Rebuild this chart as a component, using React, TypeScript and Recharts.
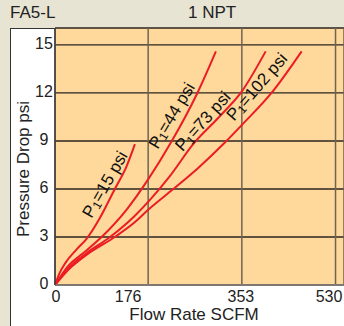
import { CartesianGrid, Line, LineChart, ReferenceDot, XAxis, YAxis } from "recharts";

const xTicks = [0, 176, 353, 530];
const yTicks = [0, 3, 6, 9, 12, 15];

// flow (SCFM) / pressure drop (psi), one pair per inlet pressure
const flow15 = [0, 8, 20, 40, 60, 85, 113, 135, 151];
const drop15 = [0, 0.7, 1.4, 2.2, 2.9, 4.2, 6.0, 7.4, 8.8];

const flow44 = [0, 25, 50, 88, 135, 176, 219, 269, 304];
const drop44 = [0, 1.2, 1.9, 3.0, 4.7, 6.6, 8.9, 12.0, 14.6];

const flow73 = [0, 30, 60, 104, 150, 179, 217, 261, 310, 353, 398];
const drop73 = [0, 1.2, 2.0, 3.0, 4.3, 5.3, 6.8, 8.8, 10.5, 12.1, 14.6];

const flow102 = [0, 30, 60, 113, 150, 176, 220, 270, 321, 353, 409, 466];
const drop102 = [0, 1.1, 1.9, 3.0, 3.9, 4.7, 5.9, 7.3, 8.9, 10.0, 12.0, 14.6];

const inletPressures = ["15", "44", "73", "102"];

const toPoints = (xs: number[], ys: number[]) => xs.map((x, i) => ({ x, y: ys[i] }));

const series = [
  toPoints(flow15, drop15),
  toPoints(flow44, drop44),
  toPoints(flow73, drop73),
  toPoints(flow102, drop102),
];

// where each curve's label sits (data coords) and its slant
const labelSpots = [
  { x: 94, y: 6.3, angle: -60 },
  { x: 220, y: 10.6, angle: -59 },
  { x: 279, y: 10.25, angle: -48 },
  { x: 381, y: 12.4, angle: -49 },
];

const FONT = "'Liberation Sans', Arial, Helvetica, sans-serif";
const RED = "#ec1c24";
const INK = "#222";

// the printed "176" sits well left of its grid line
const xLabelShift: Record<number, number> = { 176: -20, 353: -1, 530: -3 };

function XTick({ x, y, payload }: any) {
  const v = payload.value as number;
  return (
    <text x={x + (xLabelShift[v] ?? 1)} y={y + 15} textAnchor="middle" fontFamily={FONT} fontSize={16} fill={INK}>
      {v}
    </text>
  );
}

function YTick({ y, payload }: any) {
  return (
    <text x={44} y={y + 4} textAnchor="middle" fontFamily={FONT} fontSize={16} fill={INK}>
      {payload.value}
    </text>
  );
}

function CurveLabel({ cx, cy, angle, p }: { cx?: number; cy?: number; angle: number; p: string }) {
  if (cx == null || cy == null) return null;
  return (
    <text
      x={cx}
      y={cy}
      textAnchor="middle"
      dominantBaseline="central"
      transform={`rotate(${angle}, ${cx}, ${cy})`}
      fontFamily={FONT}
      fontSize={17}
      fill="#111"
    >
      <tspan>P</tspan>
      <tspan fontSize={12} dy={4}>1</tspan>
      <tspan dy={-4}>{`=${p} psi`}</tspan>
    </text>
  );
}

export default function App() {
  return (
    <div style={{ position: "absolute", left: 0, top: 0, width: 344, height: 326, overflow: "hidden", background: "#e7e4d3", fontFamily: FONT }}>
      <div style={{ position: "absolute", left: 10, top: 28, width: 340, height: 310, background: "#fff", borderLeft: "1px solid #333", borderTop: "1px solid #333" }} />
      <div style={{ position: "absolute", left: 10, top: 3, fontSize: 17, color: INK }}>FA5-L</div>
      <div style={{ position: "absolute", left: 188, top: 3, fontSize: 17, color: INK }}>1 NPT</div>
      <div
        style={{
          position: "absolute",
          left: 24,
          top: 169,
          fontSize: 17,
          color: INK,
          whiteSpace: "nowrap",
          transform: "translate(-50%, -50%) rotate(-90deg)",
        }}
      >
        Pressure Drop psi
      </div>
      <div
        style={{
          position: "absolute",
          left: 194,
          top: 306,
          fontSize: 17,
          lineHeight: "17px",
          color: INK,
          whiteSpace: "nowrap",
          transform: "translateX(-50%)",
        }}
      >
        Flow Rate SCFM
      </div>
      <div style={{ position: "absolute", left: 0, top: 0 }}>
        <LineChart width={344} height={326} margin={{ top: 28, right: 0, bottom: 0, left: 10 }}>
          <CartesianGrid fill="#fed99b" vertical={false} stroke="#2b2520" strokeWidth={1.3} />
          <CartesianGrid horizontal={false} fill="none" stroke="#6f6354" strokeWidth={1.5} />
          <XAxis
            type="number"
            dataKey="x"
            domain={[0, 546]}
            ticks={xTicks}
            allowDataOverflow
            height={41}
            tickLine={false}
            tickSize={0}
            axisLine={{ stroke: "#9a9a9a", strokeWidth: 1 }}
            tick={<XTick />}
          />
          <YAxis
            type="number"
            dataKey="y"
            domain={[0, 16.06]}
            ticks={yTicks}
            allowDataOverflow
            width={45}
            tickLine={false}
            tickSize={0}
            axisLine={{ stroke: "#333", strokeWidth: 1.3 }}
            tick={<YTick />}
          />
          {series.map((data, i) => (
            <Line
              key={inletPressures[i]}
              data={data}
              dataKey="y"
              type="monotone"
              stroke={RED}
              strokeWidth={2}
              dot={false}
              isAnimationActive={false}
            />
          ))}
          {labelSpots.map((s, i) => (
            <ReferenceDot
              key={`lbl-${inletPressures[i]}`}
              x={s.x}
              y={s.y}
              r={0}
              ifOverflow="visible"
              shape={(props: any) => <CurveLabel cx={props.cx} cy={props.cy} angle={s.angle} p={inletPressures[i]} />}
            />
          ))}
        </LineChart>
      </div>
    </div>
  );
}
